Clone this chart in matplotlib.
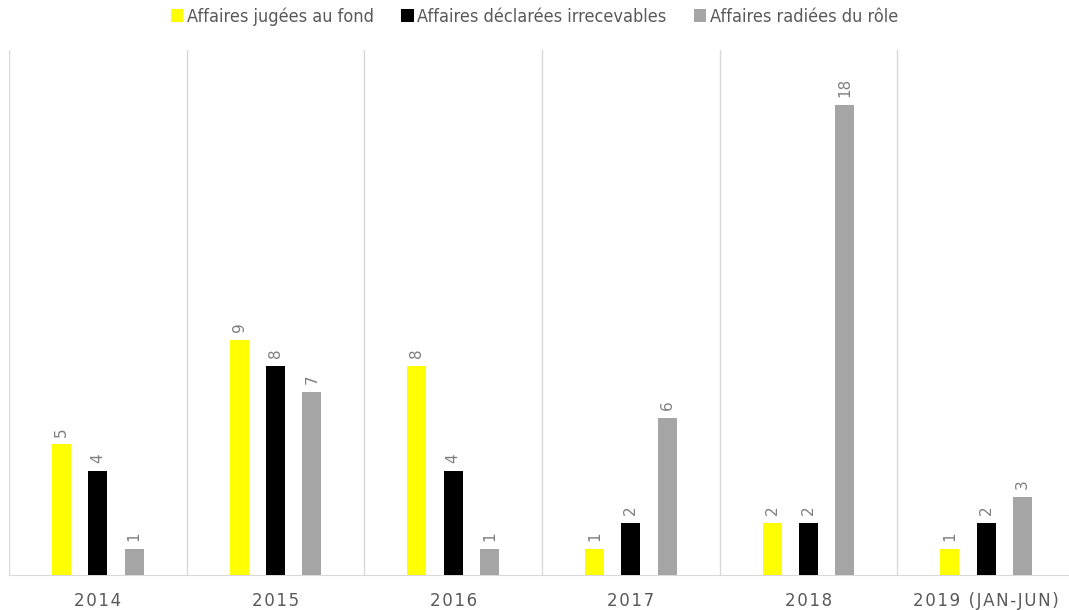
import numpy as np
import matplotlib.pyplot as plt
from matplotlib import font_manager

categories = ['2014', '2015', '2016', '2017', '2018', '2019 (JAN-JUN)']
juges = [5, 9, 8, 1, 2, 1]
irrecevables = [4, 8, 4, 2, 2, 2]
radiees = [1, 7, 1, 6, 18, 3]
series_names = ['Affaires jugées au fond', 'Affaires déclarées irrecevables', 'Affaires radiées du rôle']
colors = ['#ffff00', '#000000', '#a5a5a5']

# look for a condensed font for the legend
narrow_file = None
for f in font_manager.fontManager.ttflist:
    fn = f.fname.lower()
    if ('narrow' in fn or 'condensed' in fn) and 'bold' not in fn and 'oblique' not in fn and 'italic' not in fn:
        narrow_file = f.fname
        if 'sans' in fn:
            break
if narrow_file:
    legend_prop = font_manager.FontProperties(fname=narrow_file, size=13)
else:
    legend_prop = font_manager.FontProperties(family='DejaVu Sans', size=11)

fig = plt.figure(figsize=(10.69, 6.10), dpi=100)
ax = fig.add_axes([9/1069, 35/610, 1066/1069, 525/610])

x = np.arange(len(categories))
w = 0.107
off = 0.205
for i, (vals, c, name) in enumerate(zip([juges, irrecevables, radiees], colors, series_names)):
    xs = x + (i - 1) * off
    ax.bar(xs, vals, width=w, color=c, label=name, zorder=3)
    for xi, v in zip(xs, vals):
        ax.text(xi, v + 0.3, str(v), rotation=90, ha='center', va='bottom',
                color='#7f7f7f', fontsize=11)

ax.set_xlim(-0.5, len(categories) - 0.5)
ax.set_ylim(0, 20.1)
for b in np.arange(len(categories) + 1) - 0.5:
    ax.axvline(b, color='#d9d9d9', lw=1, zorder=1)
for s in ['top', 'right', 'left']:
    ax.spines[s].set_visible(False)
ax.spines['bottom'].set_color('#d9d9d9')
ax.set_yticks([])
ax.set_xticks(x)
ax.set_xticklabels(['\u200a'.join(c) for c in categories], color='#595959', fontsize=12)
ax.tick_params(axis='x', length=0, pad=12)

fig.legend(loc='upper center', bbox_to_anchor=(0.5, 1.015), ncol=3, frameon=False,
           prop=legend_prop, handlelength=0.7, handleheight=0.7,
           handletextpad=0.2, columnspacing=1.5, labelcolor='#595959')

fig.savefig('out.png', dpi=100)
